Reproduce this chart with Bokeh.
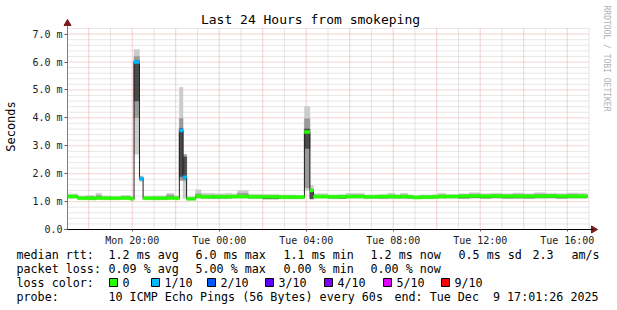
import numpy as np
from bokeh.plotting import figure
from bokeh.models import (Range1d, FixedTicker, DatetimeTickFormatter, CustomJSTickFormatter,
                          Label, BoxAnnotation, ColumnDataSource)
from bokeh.embed import file_html
from bokeh.resources import INLINE

# ---------------- data ----------------
TITLE = "Last 24 Hours from smokeping"
END_TIME = "2025-12-09 17:01:26"

SEG_START = [
    "2025-12-08 17:00", "2025-12-08 17:30", "2025-12-08 17:55", "2025-12-08 18:15", "2025-12-08 18:20",
    "2025-12-08 18:35", "2025-12-08 19:00", "2025-12-08 19:30", "2025-12-08 19:55", "2025-12-08 20:05",
    "2025-12-08 20:20", "2025-12-08 20:30", "2025-12-08 21:00", "2025-12-08 21:35", "2025-12-08 21:55",
    "2025-12-08 22:10", "2025-12-08 22:20", "2025-12-08 22:30", "2025-12-08 22:55", "2025-12-08 23:10",
    "2025-12-08 23:45", "2025-12-09 00:20", "2025-12-09 00:35", "2025-12-09 00:50", "2025-12-09 01:20",
    "2025-12-09 02:00", "2025-12-09 02:45", "2025-12-09 03:30", "2025-12-09 03:55", "2025-12-09 04:10",
    "2025-12-09 04:20", "2025-12-09 05:00", "2025-12-09 05:30", "2025-12-09 05:50", "2025-12-09 06:40",
    "2025-12-09 07:20", "2025-12-09 07:45", "2025-12-09 08:05", "2025-12-09 08:20", "2025-12-09 08:40",
    "2025-12-09 08:55", "2025-12-09 09:15", "2025-12-09 09:50", "2025-12-09 10:05", "2025-12-09 10:25",
    "2025-12-09 11:00", "2025-12-09 11:30", "2025-12-09 12:00", "2025-12-09 12:30", "2025-12-09 13:00",
    "2025-12-09 13:30", "2025-12-09 14:00", "2025-12-09 14:30", "2025-12-09 15:00", "2025-12-09 15:30",
    "2025-12-09 16:00", "2025-12-09 16:30",
]
SEG_END = "2025-12-09 16:55"

# median rtt (ms) per segment
MEDIAN = [1.18, 1.12, 1.12, 1.11, 1.13, 1.12, 1.12, 1.13, 1.10, 6.00,
          1.82, 1.12, 1.12, 1.13, 1.12, 3.55, 1.87, 1.10, 1.19, 1.17,
          1.17, 1.17, 1.18, 1.18, 1.17, 1.17, 1.16, 1.16, 3.49, 1.40,
          1.18, 1.17, 1.17, 1.18, 1.17, 1.18, 1.18, 1.17, 1.18, 1.17,
          1.15, 1.16, 1.17, 1.18, 1.18, 1.19, 1.20, 1.19, 1.20, 1.19,
          1.19, 1.19, 1.19, 1.20, 1.19, 1.19, 1.19]
# loss level index (0 -> "0", 1 -> "1/10", ...)
LOSS = [0, 0, 0, 0, 0, 0, 0, 0, 0, 1,
        1, 0, 0, 0, 0, 1, 1, 0, 0, 0,
        0, 0, 0, 0, 0, 0, 0, 0, 0, 0,
        0, 0, 0, 0, 0, 0, 0, 0, 0, 0,
        0, 0, 0, 0, 0, 0, 0, 0, 0, 0,
        0, 0, 0, 0, 0, 0, 0]
# smoke: outer (fastest..slowest ping), middle and inner ping ranges (ms)
OUT_LO = [1.12, 1.08, 1.08, 1.08, 1.08, 1.08, 1.08, 1.08, 1.06, 2.70,
          1.72, 1.08, 1.07, 1.08, 1.08, 1.76, 1.10, 1.06, 1.12, 1.10,
          1.10, 1.11, 1.12, 1.12, 1.11, 1.11, 1.10, 1.10, 1.40, 1.10,
          1.12, 1.10, 1.12, 1.12, 1.11, 1.10, 1.10, 1.12, 1.10, 1.10,
          1.10, 1.10, 1.11, 1.11, 1.12, 1.11, 1.12, 1.12, 1.12, 1.12,
          1.11, 1.12, 1.12, 1.12, 1.12, 1.12, 1.12]
OUT_HI = [1.27, 1.20, 1.22, 1.18, 1.30, 1.20, 1.18, 1.22, 1.18, 6.45,
          1.92, 1.19, 1.20, 1.30, 1.20, 5.10, 2.68, 1.16, 1.42, 1.30,
          1.28, 1.30, 1.27, 1.40, 1.26, 1.25, 1.24, 1.22, 4.41, 1.58,
          1.28, 1.24, 1.25, 1.30, 1.24, 1.25, 1.30, 1.25, 1.30, 1.24,
          1.22, 1.24, 1.25, 1.30, 1.25, 1.28, 1.32, 1.28, 1.30, 1.28,
          1.31, 1.28, 1.32, 1.30, 1.28, 1.31, 1.30]
MID_LO = [1.15, 1.10, 1.09, 1.09, 1.10, 1.10, 1.10, 1.09, 1.08, 4.00,
          1.78, 1.10, 1.09, 1.10, 1.10, 1.76, 1.75, 1.08, 1.15, 1.13,
          1.12, 1.13, 1.14, 1.15, 1.13, 1.10, 1.12, 1.12, 1.50, 1.10,
          1.14, 1.12, 1.12, 1.14, 1.13, 1.12, 1.13, 1.13, 1.13, 1.12,
          1.12, 1.12, 1.13, 1.14, 1.14, 1.13, 1.14, 1.13, 1.14, 1.13,
          1.13, 1.13, 1.14, 1.14, 1.13, 1.14, 1.14]
MID_HI = [1.22, 1.16, 1.18, 1.15, 1.22, 1.16, 1.15, 1.18, 1.14, 6.20,
          1.88, 1.15, 1.16, 1.24, 1.16, 3.98, 2.68, 1.13, 1.28, 1.22,
          1.22, 1.22, 1.22, 1.30, 1.21, 1.21, 1.20, 1.19, 3.97, 1.45,
          1.22, 1.20, 1.20, 1.24, 1.20, 1.21, 1.24, 1.21, 1.24, 1.20,
          1.19, 1.20, 1.21, 1.24, 1.21, 1.24, 1.26, 1.24, 1.25, 1.24,
          1.25, 1.24, 1.26, 1.25, 1.24, 1.25, 1.24]
IN_LO = [1.16, 1.11, 1.10, 1.10, 1.11, 1.11, 1.11, 1.11, 1.09, 4.60,
         1.80, 1.11, 1.10, 1.11, 1.11, 1.90, 1.82, 1.09, 1.16, 1.14,
         1.14, 1.14, 1.15, 1.16, 1.14, 1.10, 1.13, 1.13, 2.90, 1.10,
         1.15, 1.14, 1.12, 1.15, 1.14, 1.14, 1.15, 1.14, 1.15, 1.14,
         1.12, 1.13, 1.14, 1.15, 1.15, 1.13, 1.15, 1.13, 1.15, 1.13,
         1.14, 1.13, 1.15, 1.15, 1.13, 1.15, 1.15]
IN_HI = [1.20, 1.14, 1.15, 1.13, 1.16, 1.14, 1.14, 1.15, 1.12, 6.05,
         1.85, 1.14, 1.14, 1.16, 1.14, 3.62, 2.60, 1.12, 1.22, 1.20,
         1.19, 1.20, 1.20, 1.22, 1.19, 1.18, 1.18, 1.18, 3.60, 1.36,
         1.20, 1.19, 1.19, 1.21, 1.19, 1.20, 1.21, 1.19, 1.21, 1.19,
         1.17, 1.18, 1.19, 1.21, 1.20, 1.21, 1.22, 1.21, 1.22, 1.21,
         1.22, 1.21, 1.22, 1.22, 1.21, 1.22, 1.21]

X_LABEL_TICKS = ["2025-12-08 20:00", "2025-12-09 00:00", "2025-12-09 04:00",
                 "2025-12-09 08:00", "2025-12-09 12:00", "2025-12-09 16:00"]
Y_TICKS = [0, 1, 2, 3, 4, 5, 6, 7]
Y_AXIS_LABEL = "Seconds"

LOSS_LEVELS = ["0", "1/10", "2/10", "3/10", "4/10", "5/10", "9/10"]
LOSS_COLORS = ["#26ff00", "#00b8ff", "#0059ff", "#5e00ff", "#7e00ff", "#dd00ff", "#ff0000"]
RTT_STATS = ["1.2 ms avg", "6.0 ms max", "1.1 ms min", "1.2 ms now", "0.5 ms sd"]
AM_VALUE, AM_UNIT = "2.3", "am/s"
LOSS_STATS = ["0.09 % avg", "5.00 % max", "0.00 % min", "0.00 % now"]
PROBE = "10 ICMP Echo Pings (56 Bytes) every 60s"
END_TEXT = "end: Tue Dec \u00a09 17:01:26 2025"
WATERMARK = "RRDTOOL / TOBI OETIKER"

# ---------------- geometry (pixels) ----------------
W, H = 617, 310
PL, PR, PT, PB = 67, 589, 28, 229        # plot area inside the canvas
Y_MAX = 7.2
LEGEND_FONT = "11.7px"


def ms(v):
    return np.array(v, dtype="datetime64[ms]").astype("int64").astype(float)


HOUR = 3600000.0
end_ms = float(ms([END_TIME])[0])
start_ms = end_ms - 24 * HOUR
spp = (end_ms - start_ms) / (PR - PL)      # ms of time per pixel
ypp = Y_MAX / (PB - PT)                    # ms of rtt per pixel

left = np.maximum(ms(SEG_START), start_ms)
right = np.append(ms(SEG_START)[1:], ms([SEG_END]))
med = np.array(MEDIAN)
BAND = 1.5 * ypp

src = ColumnDataSource(dict(
    left=left, right=right, med=med,
    olo=OUT_LO, ohi=OUT_HI, mlo=MID_LO, mhi=MID_HI, ilo=IN_LO, ihi=IN_HI,
    blo=med - BAND, bhi=med + BAND, color=[LOSS_COLORS[i] for i in LOSS],
))

# the frame is the whole canvas; the scales put the plot area at PL..PR / PT..PB
p = figure(width=W, height=H, x_axis_type="datetime",
           x_range=Range1d(start_ms - PL * spp, start_ms + (W - PL) * spp),
           y_range=Range1d(-(H - PB) * ypp, Y_MAX + PT * ypp),
           output_backend="svg", toolbar_location=None,
           min_border_left=0, min_border_right=0, min_border_top=0, min_border_bottom=0)
p.outline_line_color = None
p.background_fill_color = "white"
p.border_fill_color = "white"
p.xgrid.visible = False
p.ygrid.visible = False

# ---------------- grid (dotted, like rrdtool) ----------------
hours = np.arange(start_ms - start_ms % HOUR + HOUR, end_ms, HOUR)
even = [h for h in hours if int(h // HOUR) % 2 == 0]
odd = [h for h in hours if int(h // HOUR) % 2 == 1]
minor_y = [round(v, 1) for v in np.arange(0.2, Y_MAX + 0.01, 0.2) if abs(v - round(v)) > 0.05]
major_y = Y_TICKS[1:]

p.segment(x0=odd, x1=odd, y0=0, y1=Y_MAX, line_color="#8f8f8f", line_alpha=0.42,
          line_dash="1 1", line_width=1)
p.segment(x0=start_ms, x1=end_ms, y0=minor_y, y1=minor_y, line_color="#8f8f8f", line_alpha=0.42,
          line_dash="1 1", line_width=1)
p.segment(x0=even, x1=even, y0=0, y1=Y_MAX, line_color="#de5050", line_alpha=0.5,
          line_dash="1 1", line_width=1)
p.segment(x0=start_ms, x1=end_ms, y0=major_y, y1=major_y, line_color="#de5050", line_alpha=0.5,
          line_dash="1 1", line_width=1)

# ---------------- smoke + median ----------------
p.quad(left="left", right="right", bottom="olo", top="ohi", source=src,
       fill_color="#cccccc", line_color="#cccccc", line_width=0.5)
p.quad(left="left", right="right", bottom="mlo", top="mhi", source=src,
       fill_color="#9a9a9a", line_color="#9a9a9a", line_width=0.5)
p.quad(left="left", right="right", bottom="ilo", top="ihi", source=src,
       fill_color="#4a4a4a", line_color="#4a4a4a", line_width=0.5)
p.step(x=np.append(left, right[-1]), y=np.append(med, med[-1]), mode="after",
       line_color="#202020", line_width=1)
p.quad(left="left", right="right", bottom="blo", top="bhi", source=src,
       fill_color="color", line_color="color", line_width=0.5)

# ---------------- axes at fixed locations ----------------
fmt = "%a %H:%M"
xa = p.xaxis[0]
xa.fixed_location = 0
xa.bounds = (start_ms - 3 * spp, end_ms + 4 * spp)
xa.ticker = FixedTicker(ticks=list(ms(X_LABEL_TICKS)), minor_ticks=[])
xa.formatter = DatetimeTickFormatter(
    milliseconds=fmt, seconds=fmt, minsec=fmt, minutes=fmt, hourmin=fmt, hours=fmt,
    days=fmt, months=fmt, years=fmt, strip_leading_zeros=False)
ya = p.yaxis[0]
ya.fixed_location = start_ms
ya.bounds = (0, Y_MAX + 3 * ypp)
ya.ticker = FixedTicker(ticks=Y_TICKS, minor_ticks=[])
ya.formatter = CustomJSTickFormatter(code="return tick == 0 ? '0.0' : tick.toFixed(1) + ' m';")

for ax in (xa, ya):
    ax.major_label_text_font = "DejaVu Sans Mono"
    ax.major_label_text_font_size = "10px"
    ax.major_label_text_color = "#202020"
    ax.major_tick_line_color = "#606060"
    ax.minor_tick_line_color = None
    ax.major_tick_in = 0
xa.axis_line_color = "#000000"
xa.major_tick_out = 2
xa.major_label_standoff = 3
ya.axis_line_color = "#7f7f7f"
ya.major_tick_out = 3
ya.major_label_standoff = 2

# axis arrows
p.scatter(x=[start_ms], y=[Y_MAX + 5 * ypp], marker="triangle", size=7,
          fill_color="#7a1a1a", line_color="#7a1a1a", angle=0)
p.scatter(x=[end_ms + 4 * spp], y=[0], marker="triangle", size=7,
          fill_color="#7a1a1a", line_color="#7a1a1a", angle=-np.pi / 2)


def lab(text, cx, cy, size=LEGEND_FONT, color="#000000", align="left", angle=0.0, font="DejaVu Sans Mono"):
    p.add_layout(Label(x=cx, y=H - cy, x_units="screen", y_units="screen",
                       text=text, text_font=font, text_font_size=size, text_color=color,
                       text_align=align, text_baseline="middle", angle=angle))


lab(TITLE, 310, 19, size="13px", align="center")
lab(Y_AXIS_LABEL, 10, 126, size="12px", align="center", angle=np.pi / 2)
lab(WATERMARK, 606, 5, size="8px", color="#b0b0b0", angle=-np.pi / 2)

# legend
lab("median rtt:", 16, 254)
for t, x in zip(RTT_STATS, [108, 195, 283, 370, 458]):
    lab(t, x, 254)
lab(AM_VALUE, 532, 254)
lab(AM_UNIT, 571, 254)
lab("packet loss:", 16, 268)
for t, x in zip(LOSS_STATS, [108, 195, 283, 370]):
    lab(t, x, 268)
lab("loss color:", 16, 282)
for t, c, x in zip(LOSS_LEVELS, LOSS_COLORS, [109, 151, 207, 265, 324, 383, 441]):
    p.add_layout(BoxAnnotation(left=x, right=x + 8, bottom=H - 286, top=H - 278,
                               left_units="screen", right_units="screen",
                               bottom_units="screen", top_units="screen",
                               fill_color=c, fill_alpha=1.0, line_color="#000000",
                               line_width=1, line_alpha=1.0))
    lab(t, x + 13, 282)
lab("probe:", 16, 296)
lab(PROBE, 108, 296)
lab(END_TEXT, 394, 296)

open("out.html", "w").write(file_html(p, INLINE))
